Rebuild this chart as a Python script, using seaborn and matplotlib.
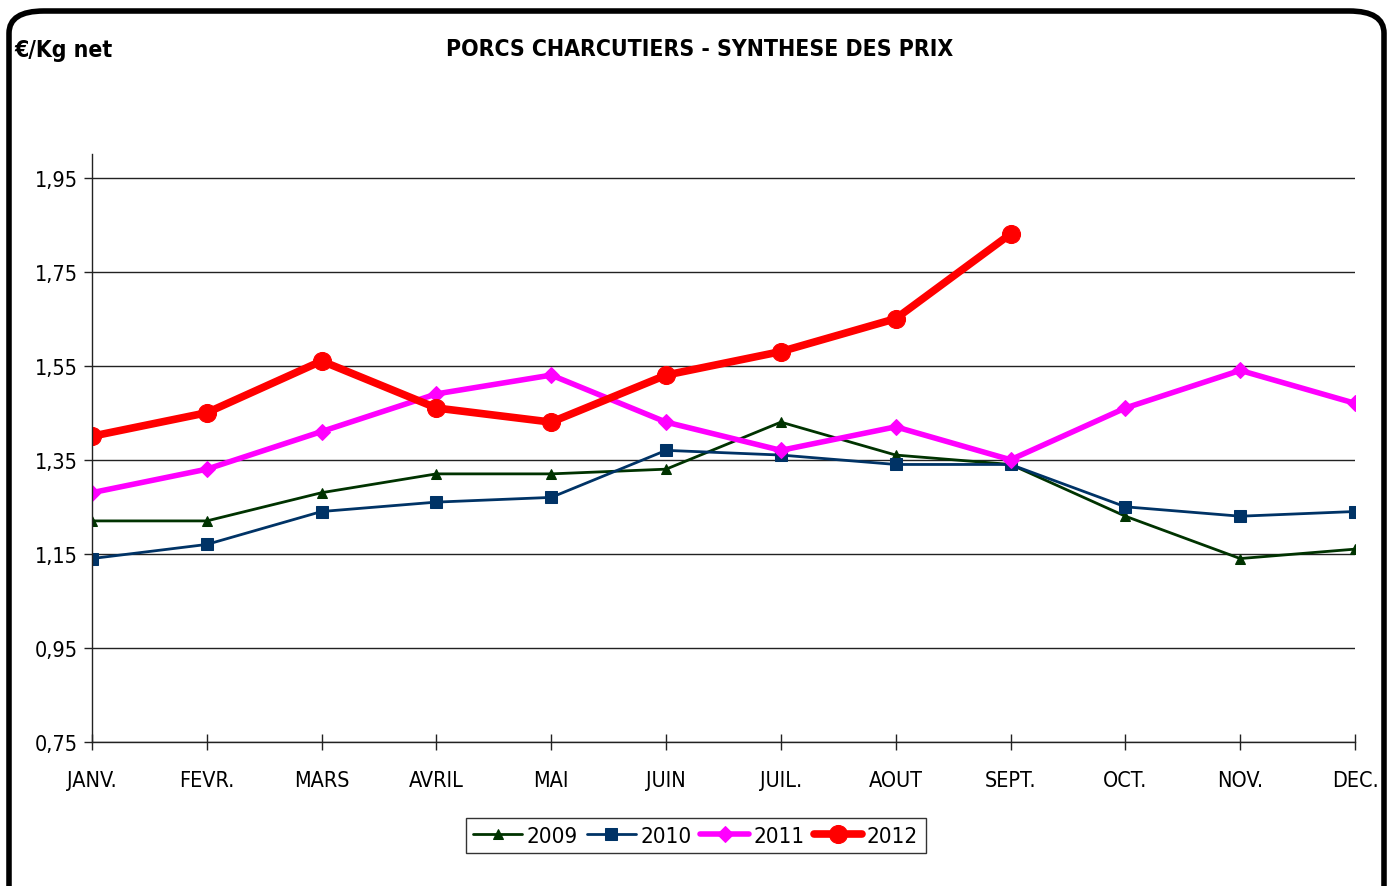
import numpy as np
import pandas as pd
import matplotlib
matplotlib.use("Agg")
import matplotlib.pyplot as plt
from matplotlib.patches import FancyBboxPatch
from matplotlib.ticker import FuncFormatter
import seaborn as sns

months = ["JANV.", "FEVR.", "MARS", "AVRIL", "MAI", "JUIN",
          "JUIL.", "AOUT", "SEPT.", "OCT.", "NOV.", "DEC."]

prix_2009 = [1.22, 1.22, 1.28, 1.32, 1.32, 1.33, 1.43, 1.36, 1.34, 1.23, 1.14, 1.16]
prix_2010 = [1.14, 1.17, 1.24, 1.26, 1.27, 1.37, 1.36, 1.34, 1.34, 1.25, 1.23, 1.24]
prix_2011 = [1.28, 1.33, 1.41, 1.49, 1.53, 1.43, 1.37, 1.42, 1.35, 1.46, 1.54, 1.47]
prix_2012 = [1.40, 1.45, 1.56, 1.46, 1.43, 1.53, 1.58, 1.65, 1.83, np.nan, np.nan, np.nan]

yticks = [0.75, 0.95, 1.15, 1.35, 1.55, 1.75, 1.95]

# style per series: colour, line width, marker, marker size
styles = {
    "2009": ("#003300", 2.0, "^", 7),
    "2010": ("#003366", 2.0, "s", 8),
    "2011": ("#FF00FF", 4.0, "D", 8),
    "2012": ("#FF0000", 5.5, "o", 13),
}
series = {"2009": prix_2009, "2010": prix_2010, "2011": prix_2011, "2012": prix_2012}

sns.set_style("white")
plt.rcParams["font.family"] = ["DejaVu Sans"]
plt.rcParams["font.stretch"] = "condensed"
plt.rcParams["text.color"] = "black"
plt.rcParams["xtick.color"] = "black"
plt.rcParams["ytick.color"] = "black"

fig = plt.figure(figsize=(13.94, 8.87), dpi=100)
ax = fig.add_axes([92 / 1394, 1 - 743 / 887, (1355 - 92) / 1394, (743 - 155) / 887])

for name, vals in series.items():
    col, lw, mk, ms = styles[name]
    df = pd.DataFrame({"x": np.arange(len(months)), "prix": vals}).dropna()
    sns.lineplot(data=df, x="x", y="prix", ax=ax, color=col, linewidth=lw,
                 marker=mk, markersize=ms, markeredgecolor=col, label=name)

ax.set_xlim(0, len(months) - 1)
ax.set_ylim(0.75, 2.0)
ax.set_yticks(yticks)
ax.yaxis.set_major_formatter(FuncFormatter(lambda v, p: f"{v:.2f}".replace(".", ",")))
ax.set_xticks(np.arange(len(months)))
ax.set_xticklabels(months)
ax.set_xlabel("")
ax.set_ylabel("")
ax.grid(axis="y", color="#222222", linewidth=1)
ax.grid(axis="x", visible=False)
for s in ["top", "right"]:
    ax.spines[s].set_visible(False)
for s in ["left", "bottom"]:
    ax.spines[s].set_color("#222222")
    ax.spines[s].set_linewidth(1)
ax.tick_params(axis="y", direction="out", length=6, width=1, color="#222222",
               labelcolor="black", labelsize=15.5, pad=4, left=True)
ax.tick_params(axis="x", direction="inout", length=12, width=1, color="#222222",
               labelcolor="black", labelsize=15.5, pad=14, bottom=True)

leg = ax.legend(loc="upper center", bbox_to_anchor=(0.478, -0.11), ncol=4,
                frameon=True, fancybox=False, fontsize=16, handlelength=2.2,
                handletextpad=0.2, columnspacing=0.4, borderpad=0.35)
leg.get_frame().set_edgecolor("black")
leg.get_frame().set_linewidth(1)
for t in leg.get_texts():
    t.set_color("black")

fig.text(14 / 1394, 1 - 50 / 887, "€/Kg net", fontsize=16.5, fontweight="bold",
         ha="left", va="center", color="black")
fig.text(700 / 1394, 1 - 50 / 887, "PORCS CHARCUTIERS - SYNTHESE DES PRIX",
         fontsize=16.5, fontweight="bold", ha="center", va="center", color="black")

frame = FancyBboxPatch((9 / 1394, -0.05), (1384 - 9) / 1394, 1.05 - 12 / 887,
                       boxstyle="round,pad=0,rounding_size=0.025",
                       transform=fig.transFigure, fill=False,
                       edgecolor="black", linewidth=4, clip_on=False)
fig.patches.append(frame)

fig.savefig("out.png", dpi=100)
